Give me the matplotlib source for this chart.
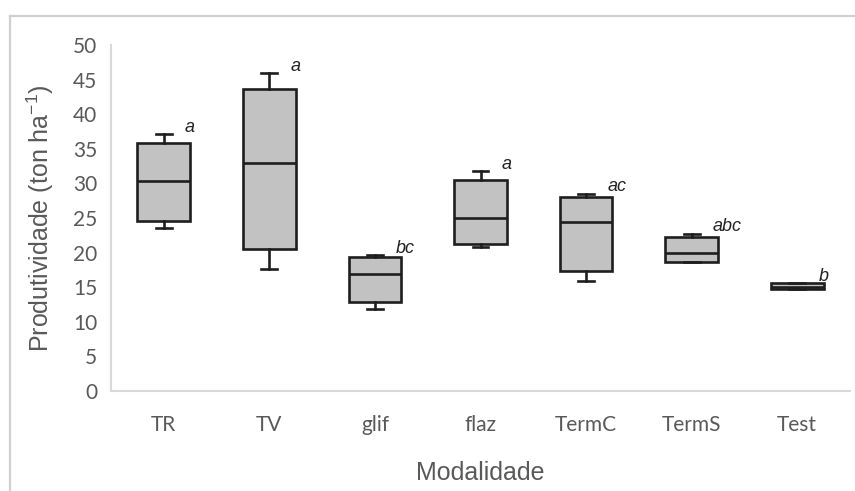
import matplotlib
matplotlib.use("Agg")
import matplotlib.pyplot as plt
from matplotlib.lines import Line2D

# data
categories = ["TR", "TV", "glif", "flaz", "TermC", "TermS", "Test"]
whisker_low = [23.6, 17.7, 11.9, 20.8, 15.9, 18.6, 14.8]
q1 = [24.6, 20.5, 12.8, 21.3, 17.4, 18.7, 14.8]
median = [30.4, 32.9, 16.9, 25.0, 24.4, 19.9, 15.1]
q3 = [35.9, 43.7, 19.4, 30.5, 28.0, 22.2, 15.6]
whisker_high = [37.1, 45.9, 19.6, 31.8, 28.5, 22.7, 15.6]
letters = ["a", "a", "bc", "a", "ac", "abc", "b"]
y_ticks = list(range(0, 51, 5))

plt.rcParams["mathtext.fontset"] = "custom"
plt.rcParams["mathtext.rm"] = "Liberation Sans"
plt.rcParams["mathtext.default"] = "regular"

text_gray = "#595959"
grid_gray = "#d9d9d9"

fig = plt.figure(figsize=(8.55, 4.91), dpi=100)
ax = fig.add_axes([111 / 855, 1 - 391 / 491, 739 / 855, 346 / 491])

stats = []
for i, name in enumerate(categories):
    stats.append({"label": name, "whislo": whisker_low[i], "q1": q1[i], "med": median[i],
                  "q3": q3[i], "whishi": whisker_high[i], "fliers": []})

line_kw = dict(color="#1e1e1e", linewidth=1.9)
ax.bxp(stats, positions=range(len(categories)), widths=0.5, capwidths=0.15,
       patch_artist=True, showfliers=False,
       boxprops=dict(facecolor="#c2c2c2", edgecolor="#1e1e1e", linewidth=1.9),
       medianprops=line_kw, whiskerprops=line_kw, capprops=line_kw)

# significance letters
for i, lt in enumerate(letters):
    ax.text(i + 0.2, whisker_high[i] + 1.0, lt, ha="left", va="center",
            fontsize=13, style="italic", family="Liberation Sans", color="#222222")

ax.set_xlim(-0.5, len(categories) - 0.5)
ax.set_ylim(0, 50)
ax.set_yticks(y_ticks)
ax.set_xticks(range(len(categories)))
ax.set_xticklabels(categories)

# only left and bottom light spines, no tick marks
ax.spines["right"].set_visible(False)
ax.spines["top"].set_visible(False)
for s in ["left", "bottom"]:
    ax.spines[s].set_color(grid_gray)
    ax.spines[s].set_linewidth(1.5)

ax.tick_params(axis="both", length=0, labelsize=15, labelcolor=text_gray)
ax.tick_params(axis="x", pad=17)
ax.tick_params(axis="y", pad=10)
for lab in ax.get_xticklabels() + ax.get_yticklabels():
    lab.set_family("Lato")

ax.set_xlabel("Modalidade", fontsize=18, color=text_gray, family="Liberation Sans", labelpad=19)
ax.set_ylabel("Produtividade (ton ha$^{-1}$)", fontsize=18, color=text_gray,
              family="Liberation Sans", labelpad=12)

# frame lines of the original chart area
fig.add_artist(Line2D([10 / 855, 1], [1 - 16 / 491, 1 - 16 / 491], color="#d0d0d0", linewidth=1.6))
fig.add_artist(Line2D([10 / 855, 10 / 855], [0, 1 - 16 / 491], color="#d0d0d0", linewidth=1.6))

fig.savefig("out.png", dpi=100)
